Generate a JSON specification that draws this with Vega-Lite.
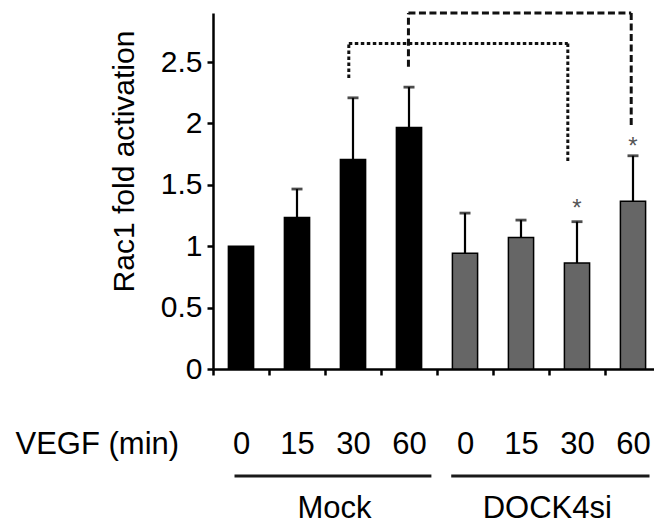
{
  "$schema": "https://vega.github.io/schema/vega-lite/v6.json",
  "width": 441,
  "height": 356,
  "autosize": {"type": "none"},
  "padding": {"left": 213, "top": 13, "right": 0, "bottom": 156},
  "background": "white",
  "config": {
    "view": {"stroke": null},
    "font": "Liberation Sans",
    "axis": {
      "domainColor": "#000", "domainWidth": 2.5, "tickColor": "#000", "tickWidth": 2.5, "tickSize": 6,
      "labelColor": "#000", "titleColor": "#000", "grid": false, "labelFont": "Liberation Sans", "titleFont": "Liberation Sans",
      "titleFontWeight": "normal"
    }
  },
  "datasets": {
    "bars": [
      {"key": "Mock|0", "group": "Mock", "value": 1.0, "upper": null},
      {"key": "Mock|15", "group": "Mock", "value": 1.235, "upper": 1.466},
      {"key": "Mock|30", "group": "Mock", "value": 1.707, "upper": 2.209},
      {"key": "Mock|60", "group": "Mock", "value": 1.968, "upper": 2.296},
      {"key": "DOCK4si|0", "group": "DOCK4si", "value": 0.942, "upper": 1.27},
      {"key": "DOCK4si|15", "group": "DOCK4si", "value": 1.072, "upper": 1.213},
      {"key": "DOCK4si|30", "group": "DOCK4si", "value": 0.863, "upper": 1.2},
      {"key": "DOCK4si|60", "group": "DOCK4si", "value": 1.366, "upper": 1.737}
    ],
    "stars": [
      {"key": "DOCK4si|30", "y": 1.25, "t": "*"},
      {"key": "DOCK4si|60", "y": 1.755, "t": "*"}
    ],
    "brackets": [
      {"style": "dot", "xa": 2.425, "xb": 2.425, "ya": 2.37, "yb": 2.652},
      {"style": "dot", "xa": 2.425, "xb": 6.336, "ya": 2.652, "yb": 2.652},
      {"style": "dot", "xa": 6.336, "xb": 6.336, "ya": 2.652, "yb": 1.694},
      {"style": "dash", "xa": 3.49, "xb": 3.49, "ya": 2.462, "yb": 2.9},
      {"style": "dash", "xa": 3.49, "xb": 7.468, "ya": 2.9, "yb": 2.9},
      {"style": "dash", "xa": 7.468, "xb": 7.468, "ya": 2.9, "yb": 1.973}
    ],
    "groups": [
      {"name": "Mock", "start": 0.384, "end": 3.9, "mid": 2.17, "lineY": -0.872, "labelY": -1.214},
      {"name": "DOCK4si", "start": 4.254, "end": 7.795, "mid": 5.97, "lineY": -0.872, "labelY": -1.214}
    ]
  },
  "layer": [
    {
      "encoding": {
        "x": {
          "field": "key", "type": "nominal",
          "scale": {
            "domain": ["Mock|0", "Mock|15", "Mock|30", "Mock|60", "DOCK4si|0", "DOCK4si|15", "DOCK4si|30", "DOCK4si|60"],
            "range": [0, 448], "paddingInner": 0, "paddingOuter": 0
          },
          "axis": {
            "tickBand": "extent",
            "labelExpr": "split(datum.label, '|')[1]",
            "labelAngle": 0, "labelFontSize": 31, "labelPadding": 78, "labelBaseline": "alphabetic",
            "title": "VEGF (min)", "titleFontSize": 31, "titleX": -198, "titleY": 84,
            "titleAlign": "left", "titleBaseline": "alphabetic", "titleAnchor": "start"
          }
        }
      },
      "layer": [
        {
          "data": {"name": "bars"},
          "mark": {"type": "bar", "width": {"band": 0.45}, "stroke": "#000", "strokeWidth": 1.5},
          "encoding": {
            "y": {
              "field": "value", "type": "quantitative",
              "scale": {"domain": [0, 2.9], "nice": false},
              "axis": {
                "values": [0, 0.5, 1, 1.5, 2, 2.5], "format": "~g", "labelFontSize": 30, "labelPadding": 5,
                "title": "Rac1 fold activation", "titleFontSize": 30, "titleX": -80, "titleY": 148,
                "titleAngle": -90, "titleAlign": "center", "titleBaseline": "alphabetic"
              }
            },
            "color": {
              "field": "group", "type": "nominal",
              "scale": {"domain": ["Mock", "DOCK4si"], "range": ["#000000", "#666666"]},
              "legend": null
            }
          }
        },
        {
          "data": {"name": "bars"},
          "transform": [{"filter": "datum.upper != null"}],
          "mark": {"type": "rule", "color": "#000", "strokeWidth": 2.2},
          "encoding": {
            "y": {"field": "value", "type": "quantitative"},
            "y2": {"field": "upper"}
          }
        },
        {
          "data": {"name": "bars"},
          "transform": [{"filter": "datum.upper != null"}],
          "mark": {"type": "tick", "color": "#000", "size": 11, "thickness": 2.8, "orient": "horizontal"},
          "encoding": {
            "y": {"field": "upper", "type": "quantitative"}
          }
        },
        {
          "data": {"name": "stars"},
          "mark": {"type": "text", "fontSize": 24, "color": "#555", "baseline": "alphabetic", "align": "center"},
          "encoding": {
            "y": {"field": "y", "type": "quantitative"},
            "text": {"field": "t"}
          }
        }
      ]
    },
    {
      "layer": [
        {
          "data": {"name": "brackets"},
          "mark": {"type": "rule", "color": "#111"},
          "encoding": {
            "x": {"field": "xa", "type": "quantitative", "scale": {"domain": [0, 8], "range": [0, 448], "nice": false, "zero": false}, "axis": null},
            "x2": {"field": "xb"},
            "y": {"field": "ya", "type": "quantitative", "scale": {"domain": [0, 2.9], "nice": false}},
            "y2": {"field": "yb"},
            "strokeDash": {"field": "style", "type": "nominal", "scale": {"domain": ["dot", "dash"], "range": [[3.5, 2.5], [7, 3.5]]}, "legend": null},
            "strokeWidth": {"field": "style", "type": "nominal", "scale": {"domain": ["dot", "dash"], "range": [3, 3]}, "legend": null}
          }
        },
        {
          "data": {"name": "groups"},
          "mark": {"type": "rule", "color": "#1a1a1a", "strokeWidth": 3},
          "encoding": {
            "x": {"field": "start", "type": "quantitative", "scale": {"domain": [0, 8], "range": [0, 448], "nice": false, "zero": false}, "axis": null},
            "x2": {"field": "end"},
            "y": {"field": "lineY", "type": "quantitative", "scale": {"domain": [0, 2.9], "nice": false}}
          }
        },
        {
          "data": {"name": "groups"},
          "mark": {"type": "text", "fontSize": 31, "color": "#000", "baseline": "alphabetic", "align": "center", "font": "Liberation Sans"},
          "encoding": {
            "x": {"field": "mid", "type": "quantitative", "scale": {"domain": [0, 8], "range": [0, 448], "nice": false, "zero": false}, "axis": null},
            "y": {"field": "labelY", "type": "quantitative", "scale": {"domain": [0, 2.9], "nice": false}},
            "text": {"field": "name"}
          }
        }
      ]
    }
  ],
  "resolve": {"scale": {"x": "independent", "strokeDash": "independent", "strokeWidth": "independent"}}
}
